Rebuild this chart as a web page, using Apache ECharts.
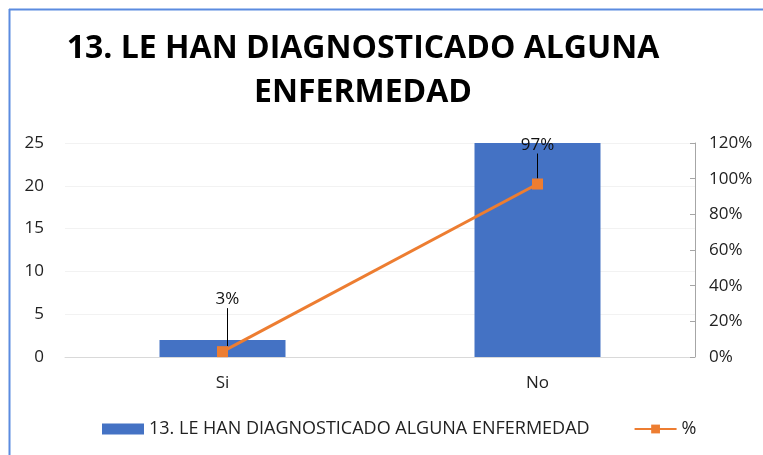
<!DOCTYPE html>
<html>
<head>
<meta charset="utf-8">
<script src="https://cdn.jsdelivr.net/npm/echarts@6/dist/echarts.min.js"></script>
<style>
  html, body { margin: 0; padding: 0; background: #fff; }
  #main { width: 763px; height: 455px; }
</style>
</head>
<body>
<div id="main"></div>
<script>
var categories = ['Si', 'No']
var counts = [2, 25]
var percents = [3, 97]
var leftTicks = [0, 5, 10, 15, 20, 25]
var rightTicks = [0, 20, 40, 60, 80, 100, 120]
var barName = '13. LE HAN DIAGNOSTICADO ALGUNA ENFERMEDAD'
var lineName = '%'

const myCharts = echarts.init(document.getElementById('main'))
const font = 'Open Sans'

const option = {
  animation: false,
  textStyle: { fontFamily: font },
  graphic: [
    { type: 'line', shape: { x1: 9.5, y1: 9, x2: 9.5, y2: 460 }, style: { stroke: '#5b8be0', lineWidth: 2 } },
    { type: 'line', shape: { x1: 9, y1: 9.5, x2: 770, y2: 9.5 }, style: { stroke: '#5b8be0', lineWidth: 2 } }
  ],
  title: {
    text: '13. LE HAN DIAGNOSTICADO ALGUNA\nENFERMEDAD',
    left: 358,
    top: 22,
    textAlign: 'center',
    textStyle: {
      fontFamily: font,
      fontWeight: 'bold',
      fontSize: 32,
      lineHeight: 44,
      color: '#000'
    }
  },
  legend: {
    bottom: 12,
    left: 97,
    itemGap: 44,
    itemWidth: 42,
    itemHeight: 11,
    textStyle: { fontSize: 18, color: '#222', fontFamily: font },
    data: [
      { name: barName, icon: 'rect' },
      { name: lineName }
    ]
  },
  grid: { left: 65, right: 68, top: 143, bottom: 98 },
  xAxis: {
    type: 'category',
    data: categories,
    axisLine: { lineStyle: { color: '#d9d9d9' } },
    axisTick: { show: false },
    axisLabel: { fontSize: 17, color: '#222', margin: 18 }
  },
  yAxis: [
    {
      type: 'value',
      min: leftTicks[0],
      max: leftTicks[leftTicks.length - 1],
      interval: 5,
      axisLine: { show: false },
      axisTick: { show: false },
      axisLabel: { fontSize: 17, color: '#222', margin: 21 },
      splitLine: { lineStyle: { color: '#f2f2f2' } }
    },
    {
      type: 'value',
      min: rightTicks[0],
      max: rightTicks[rightTicks.length - 1],
      interval: 20,
      position: 'right',
      axisLine: { show: true, lineStyle: { color: '#a6a6a6' } },
      axisTick: { show: true, inside: true, length: 5, lineStyle: { color: '#a6a6a6' } },
      axisLabel: { fontSize: 17, color: '#222', margin: 14, formatter: '{value}%' },
      splitLine: { show: false }
    }
  ],
  series: [
    {
      name: barName,
      type: 'bar',
      data: counts,
      barWidth: '40%',
      itemStyle: { color: '#4472c4' }
    },
    {
      name: lineName,
      type: 'line',
      yAxisIndex: 1,
      data: percents,
      symbol: 'rect',
      symbolSize: 11,
      itemStyle: { color: '#ed7d31' },
      lineStyle: { color: '#ed7d31', width: 3 },
      label: {
        show: true,
        position: 'top',
        formatter: '{c}%',
        fontSize: 17,
        color: '#111',
        fontFamily: font
      },
      labelLayout: function (params) {
        return params.dataIndex === 0 ? { dx: 5, dy: -33 } : { dy: -20 }
      },
      labelLine: { show: true, lineStyle: { color: '#000', width: 1 } }
    }
  ]
}
myCharts.setOption(option)
</script>
</body>
</html>
